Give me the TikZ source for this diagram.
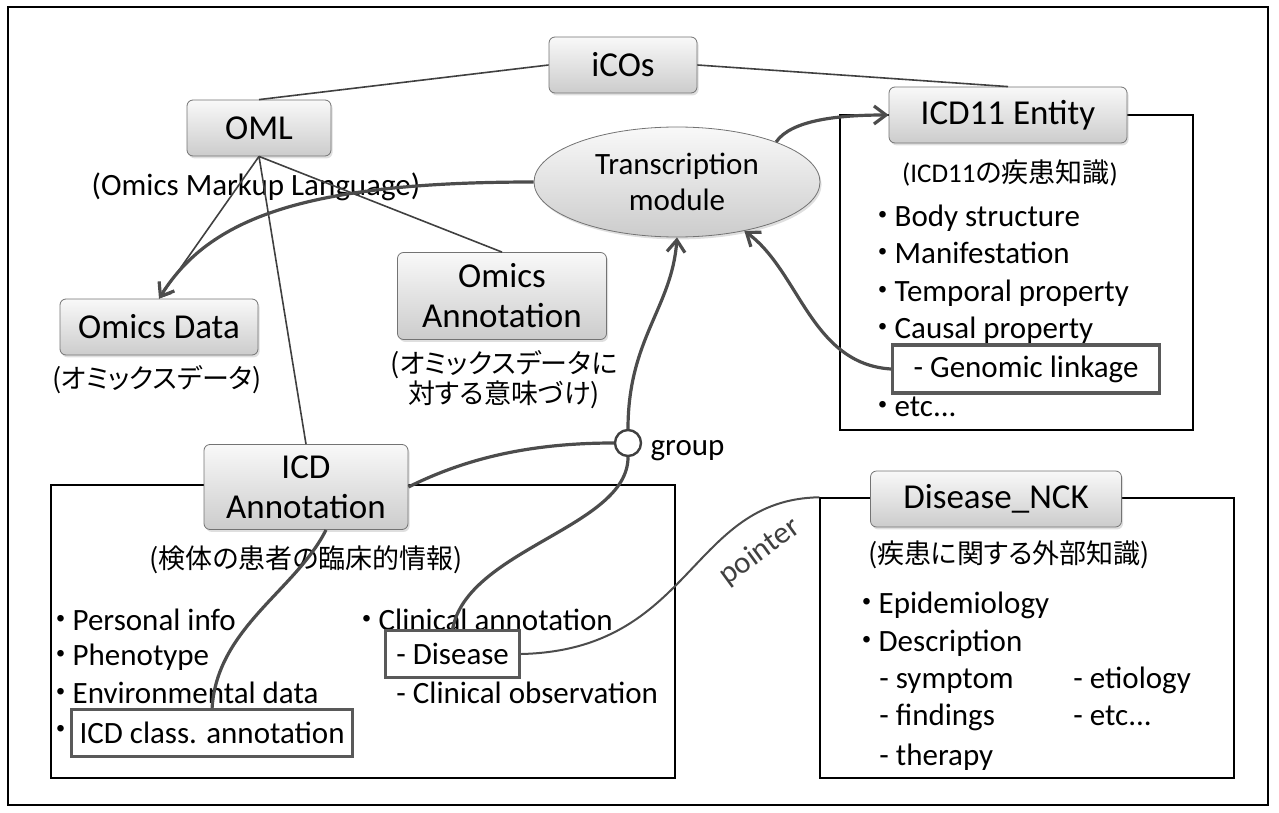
\documentclass[tikz,border=0pt]{standalone}
\usepackage{fontspec}
\setmainfont{Carlito}
\newfontfamily\jp[RawFeature=+palt]{Noto Sans CJK JP}
\usetikzlibrary{shapes.geometric,shadows,arrows.meta}

\begin{document}
\begin{tikzpicture}[x=0.5pt,y=-0.5pt]
    \newcommand{\pix}[0]{ 0.5pt }
    \newcommand{\itm}[0]{\makebox[0.75em][c]{\jp ・}}
    \tikzstyle{conn}   = [line width=0.8pt,draw=black!75]
    \tikzstyle{dconn}  = [conn,->,>={Straight Barb[length=5pt,width=7pt]}]
    \tikzstyle{curve}  = [line width=1.6pt,draw=black!70]
    \tikzstyle{dcurve} = [curve,->,>={Straight Barb[length=6pt,width=9pt]}]
    \tikzstyle{box}=[
      rectangle,
      rounded corners=3pt,
      draw=black!55,
      top color=gray!5,
      bottom color=gray!40,
      drop shadow={opacity=0.25,shadow xshift=0.8pt,shadow yshift=-1.2pt},
      minimum height=56*\pix,
      align=center,
      inner sep=2pt,
      font=\fontsize{17.5}{20}\selectfont,
    ]
    \tikzstyle{framebox} = [rectangle,draw=black,line width=0.7pt,inner sep=0]
    \tikzstyle{hl}   = [rectangle,draw=black!65,line width=1.6pt,anchor=west,inner sep=0,
                        font=\fontsize{15.5}{18}\selectfont]
    \tikzstyle{item} = [anchor=west,inner sep=0,font=\fontsize{15.5}{18}\selectfont,
                        text height=11pt,text depth=3pt]
    \tikzstyle{note} = [align=center,inner sep=0,font=\fontsize{13.5}{15}\selectfont\jp]

    \useasboundingbox (0,0) rectangle (1279,813);
    \draw[line width=1pt] (8,7) rectangle (1268,805);

    % frames
    \node[framebox,minimum width=353*\pix,minimum height=315*\pix] (icd11frame) at (1016.5,272.5) {};
    \node[framebox,minimum width=624*\pix,minimum height=293*\pix] (icdframe) at (363,631.5) {};
    \node[framebox,minimum width=414*\pix,minimum height=280*\pix] (nckframe) at (1027,638) {};

    % boxes
    \node[box,minimum width=148*\pix] (icos) at (623,65) {iCOs};
    \node[box,minimum width=144*\pix] (oml) at (259,128) {OML};
    \node[box,minimum width=238*\pix] (icd11) at (1008,115) {ICD11 Entity};
    \node[box,minimum width=198*\pix] (omicsdata) at (159,327) {Omics Data};
    \node[box,minimum width=209*\pix,minimum height=87*\pix] (omicsann) at (502,296) {Omics\\Annotation};
    \node[box,minimum width=204*\pix,minimum height=85*\pix] (icdann) at (306,487) {ICD\\Annotation};
    \node[box,minimum width=251*\pix] (nck) at (996,499) {Disease\_NCK};
    \node[box,ellipse,sharp corners,inner sep=0,minimum width=286*\pix,minimum height=110*\pix,
          font=\fontsize{15.5}{18}\selectfont] (trans) at (677,182) {Transcription\\module};
    \node[circle,draw=black!75,line width=1.2pt,fill=white,minimum size=26*\pix,inner sep=0] (grp) at (628,443) {};
    \node[item] (grouplabel) at ([xshift=4pt,yshift=-2pt]grp.east) {group};

    % captions
    \node[note,font=\fontsize{15.5}{18}\selectfont] (omltext) at (256,187) {(Omics Markup Language)};
    \node[note] (omicsdatatext) at (157,380) {(オミックスデータ)};
    \node[note] (omicsanntext) at (504,380) {(オミックスデータに\\対する意味づけ)};
    \node[note] (icdanntext) at (306,560) {(検体の患者の臨床的情報)};
    \node[note,font=\fontsize{13.5}{15}\selectfont] (icd11text) at (1010,173) {(ICD11{\jp の疾患知識})};
    \node[note] (ncktext) at (1009,555) {(疾患に関する外部知識)};

    % ICD11 entity items
    \node[item] (body) at (871,218) {\itm Body structure};
    \node[item] (manif) at (871,255) {\itm Manifestation};
    \node[item] (temporal) at (871,293) {\itm Temporal property};
    \node[item] (causal) at (871,330) {\itm Causal property};
    \node[hl,minimum width=267*\pix,minimum height=48*\pix] (genomic) at (891,369) {- Genomic linkage};
    \node[item] (etca) at (871,408) {\itm etc...};

    % ICD annotation items
    \node[item] (personal) at (49,622) {\itm Personal info};
    \node[item] (pheno) at (49,657) {\itm Phenotype};
    \node[item] (env) at (49,695) {\itm Environmental data};
    \node[item] (classbullet) at (49,732) {\itm};
    \node[hl,minimum width=281*\pix,minimum height=47*\pix] (icdclass) at (70,733) {ICD class. annotation};
    \node[item] (clinical) at (355,622) {\itm Clinical annotation};
    \node[hl,minimum width=134*\pix,minimum height=47*\pix] (disease) at (384,654) {- Disease};
    \node[item] (observation) at (396,695) {- Clinical observation};

    % Disease_NCK items
    \node[item] (epi) at (855,605) {\itm Epidemiology};
    \node[item] (descr) at (855,643) {\itm Description};
    \node[item] (symptom) at (879,680) {- symptom};
    \node[item] (etiology) at (1073,680) {- etiology};
    \node[item] (findings) at (879,717) {- findings};
    \node[item] (etcb) at (1073,717) {- etc...};
    \node[item] (therapy) at (879,757) {- therapy};

    % iCOs -> OML, ICD11
    \draw[conn] (icos.west) -- (oml.north);
    \draw[conn] (icos.east) -- (icd11.north);

    % OML -> omics data / annotations
    \draw[dconn] (oml.south) -- (omicsdata.north);
    \draw[conn] (oml.south) -- (omicsann.north);
    \draw[conn] (oml.south) -- (icdann.north);

    % transcription module
    \draw[dcurve] (trans.west) .. controls +(-230,0) and +(50,-80) .. (omicsdata.north);
    \draw[dcurve] (trans.22) .. controls +(15,-22) and +(-50,0) .. (icd11.west);
    \draw[dcurve] (genomic.west) .. controls +(-80,-5) and +(55,40) .. (trans.-36);

    % group
    \draw[dcurve] (grp.north) .. controls +(0,-90) and +(-5,70) .. (trans.south);
    \draw[curve] (icdann.east) .. controls +(60,-30) and +(-80,0) .. (grp.west);
    \draw[curve] (grp.south) .. controls +(0,70) and +(15,-80) .. (disease.north);
    \draw[curve] (icdclass.north) .. controls +(5,-80) and +(-30,60) .. ([xshift=10pt]icdann.south);

    % pointer
    \draw[line width=1pt,draw=black!70] (disease.east)
        .. controls +(172,-4) and +(-130,2) .. (nckframe.north west)
        node[pos=0.74,sloped,below=7pt,font=\fontsize{15.5}{18}\selectfont,text=black!75] (pointerlabel) {pointer};
\end{tikzpicture}
\end{document}
